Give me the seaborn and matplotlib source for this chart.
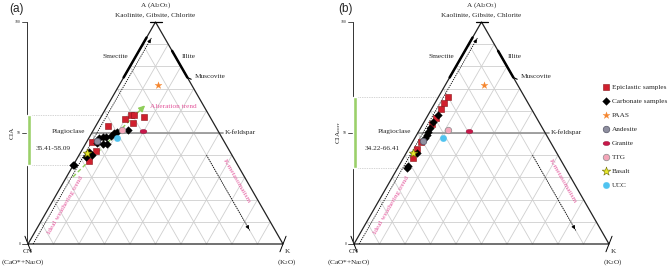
import numpy as np
import pandas as pd
import matplotlib.pyplot as plt
import seaborn as sns

sns.set_theme(style='white')
plt.rcParams['font.family'] = ['Liberation Serif', 'DejaVu Serif']
plt.rcParams['mathtext.fontset'] = 'custom'
plt.rcParams['mathtext.rm'] = 'Liberation Serif'
plt.rcParams['mathtext.it'] = 'Liberation Serif:italic'

# datos (A y K en %, CN = 100 - A - K) ========================================
# (a) CIA
epi_a_A = [58.09, 58.0, 57.4, 56.2, 54.4, 53.2, 46.0, 41.9, 37.5]
epi_a_K = [11.2, 12.4, 16.7, 9.9, 13.8, 4.6, 2.2, 5.6, 5.1]
carb_a_A = [51.4, 50.5, 49.8, 48.6, 48.3, 48.3, 47.6, 44.9, 44.9, 45.4, 41.6, 40.1, 39.3, 35.6, 35.41]
carb_a_K = [13.4, 9.5, 8.9, 8.2, 6.3, 5.4, 4.2, 8.4, 7.1, 4.2, 3.2, 5.0, 3.1, 0.3, 0.0]

# (b) CIA corr
epi_b_A = [66.41, 63.4, 60.7, 56.6, 53.9, 45.9, 42.7, 38.6]
epi_b_K = [3.6, 3.6, 3.8, 3.9, 3.6, 3.5, 3.5, 3.8]
carb_b_A = [58.1, 55.1, 52.1, 50.6, 49.1, 47.6, 40.9, 35.3, 34.22]
carb_b_K = [3.8, 3.5, 3.8, 3.8, 4.0, 4.0, 4.1, 3.6, 3.5]

# referencias
ref_names = ['PAAS', 'Andesite', 'Granite', 'TTG', 'Basalt', 'UCC']
ref_A = [71.7, 46.6, 50.9, 51.2, 40.9, 47.7]
ref_K = [15.0, 3.6, 19.6, 11.3, 2.5, 11.2]

cia_range_a = [35.41, 58.09]
cia_range_b = [34.22, 66.41]


def tern(A, K):
    A = np.asarray(A, float) / 100
    K = np.asarray(K, float) / 100
    return K + A / 2, A


t = np.linspace(0, 2 * np.pi, 40)
ellipse = np.column_stack([1.4 * np.cos(t), 0.85 * np.sin(t)])

estilos = {
    'Epiclastic samples': dict(marker='s', color='#d0202e', edgecolor='#8a1418', s=22, linewidth=0.4),
    'Carbonate samples': dict(marker='D', color='black', edgecolor='black', s=15, linewidth=0.3),
    'PAAS': dict(marker='*', color='#f5862e', edgecolor='#f5862e', s=28, linewidth=0.2),
    'Andesite': dict(marker='o', color='#8e8fa0', edgecolor='#555566', s=22, linewidth=0.5),
    'Granite': dict(marker=ellipse, color='#c8174a', edgecolor='#8a1030', s=24, linewidth=0.3),
    'TTG': dict(marker='o', color='#f4a6b9', edgecolor='#8a8a8a', s=22, linewidth=0.5),
    'Basalt': dict(marker='*', color='#e8e82a', edgecolor='#6b6b00', s=42, linewidth=0.4),
    'UCC': dict(marker='o', color='#4fc3f0', edgecolor='#4fc3f0', s=22, linewidth=0.2),
}

rosa = '#e4579c'
fs = 5.2

fig = plt.figure(figsize=(6.69, 2.69), dpi=100)
ax_a = fig.add_axes([0, 0, 335 / 669, 1])
ax_b = fig.add_axes([335 / 669, 0, 334 / 669, 1])
ax_a.set_xlim(-28 / 255, 307 / 255)
ax_b.set_xlim(-19 / 255, 315 / 255)
for ax in (ax_a, ax_b):
    ax.set_ylim(-25 / 222, 244 / 222)
    ax.axis('off')


def base(ax, rango, ylab, lab_x, fin_top, fin_bot):
    # rejilla ternaria
    for v in np.arange(0.1, 0.95, 0.1):
        ax.plot([v / 2, 1 - v / 2], [v, v], color='#cfcfcf', lw=0.6, zorder=1)
        ax.plot([v, v + (1 - v) / 2], [0, 1 - v], color='#cfcfcf', lw=0.6, zorder=1)
        ax.plot([1 - v, (1 - v) / 2], [0, 1 - v], color='#cfcfcf', lw=0.6, zorder=1)
    ax.plot([0.25, 0.765], [0.5, 0.5], color='#9a9a9a', lw=1.3, zorder=2)
    ax.plot([0, 0.5, 1, 0], [0, 1, 0, 0], color='#222222', lw=0.9, zorder=3)
    # minerales
    ax.plot([0.75 / 2, 0.93 / 2], [0.75, 0.93], color='black', lw=1.8, zorder=3)
    ax.plot([1 - 0.75 / 2, 1 - 0.87 / 2], [0.75, 0.87], color='black', lw=1.8, zorder=3)
    ax.plot([0.625, 0.64], [0.75, 0.742], color='black', lw=0.8, zorder=3)
    ax.plot([0.48, 0.525], [1, 1], color='black', lw=0.9, zorder=3)
    ax.plot([-0.012, 0.012], [0.035, -0.035], color='black', lw=0.7, zorder=3)
    ax.plot([0.988, 1.012], [-0.035, 0.035], color='black', lw=0.7, zorder=3)
    # flechas punteadas
    ax.plot([0.02, 0.485], [0, 0.93], color='black', lw=0.6, ls=(0, (1.5, 1.2)), zorder=3)
    ax.annotate('', xy=(0.487, 0.935), xytext=(0.47, 0.90),
                arrowprops=dict(arrowstyle='-|>', color='black', lw=0.6, mutation_scale=5))
    ax.plot([0.70, 0.87], [0.40, 0.06], color='black', lw=0.6, ls=(0, (1.5, 1.2)), zorder=3)
    ax.annotate('', xy=(0.8725, 0.055), xytext=(0.855, 0.09),
                arrowprops=dict(arrowstyle='-|>', color='black', lw=0.6, mutation_scale=5))
    # eje CIA
    ax.plot([-0.004, -0.004], [0, 1], color='#333333', lw=0.7, zorder=3)
    for v, txt in [(0, '0'), (0.5, '50'), (1, '100')]:
        ax.plot([-0.022, -0.004], [v, v], color='#333333', lw=0.6)
        ax.text(-0.028, v, txt, fontsize=2.8, ha='right', va='center')
    ax.bar(-0.004, (rango[1] - rango[0]) / 100, bottom=rango[0] / 100, width=0.016,
           align='edge', color='#9bd06a', zorder=4)
    ax.plot([0.016, fin_top], [rango[1] / 100] * 2, color='#aaaaaa', lw=0.5, ls=(0, (1, 1.5)), zorder=2)
    ax.plot([0.016, fin_bot], [rango[0] / 100] * 2, color='#aaaaaa', lw=0.5, ls=(0, (1, 1.5)), zorder=2)
    ax.text(lab_x, 0.43, f'{rango[0]:.2f}-{rango[1]:.2f}', fontsize=fs, ha='left', va='center')
    ax.text(-0.06, 0.5, ylab, fontsize=fs, rotation=90, ha='center', va='center')
    # etiquetas
    ax.text(0.5, 1.077, r'A (Al$_{2}$O$_{3}$)', fontsize=fs, ha='center', va='center')
    ax.text(0.5, 1.032, 'Kaolinite, Gibsite, Chlorite', fontsize=fs, ha='center', va='center')
    ax.text(0.341, 0.844, 'Smectite', fontsize=fs, ha='center', va='center')
    ax.text(0.629, 0.844, 'Illite', fontsize=fs, ha='center', va='center')
    ax.text(0.655, 0.754, 'Muscovite', fontsize=fs, ha='left', va='center')
    ax.text(0.225, 0.505, 'Plagioclase', fontsize=fs, ha='right', va='center')
    ax.text(0.772, 0.505, 'K-feldspar', fontsize=fs, ha='left', va='center')
    ax.text(0.0, -0.036, 'CN', fontsize=fs, ha='center', va='center')
    ax.text(-0.02, -0.081, r'(CaO*+Na$_{2}$O)', fontsize=fs, ha='center', va='center')
    ax.text(1.008, -0.036, 'K', fontsize=fs, ha='left', va='center')
    ax.text(1.015, -0.081, r'(K$_{2}$O)', fontsize=fs, ha='center', va='center')
    ax.text(0.145, 0.176, 'Ideal weathering trend', fontsize=fs, color=rosa,
            rotation=60, ha='center', va='center')
    ax.text(0.816, 0.284, 'K-metasomatism', fontsize=fs, color=rosa,
            rotation=-60, ha='center', va='center')


def puntos(ax, epi_A, epi_K, carb_A, carb_K, leyenda):
    grupos = [('Epiclastic samples', epi_A, epi_K), ('Carbonate samples', carb_A, carb_K)]
    for i, n in enumerate(ref_names):
        grupos.append((n, [ref_A[i]], [ref_K[i]]))
    for n, A, K in grupos:
        x, y = tern(A, K)
        df = pd.DataFrame({'x': x, 'y': y})
        sns.scatterplot(data=df, x='x', y='y', ax=ax, label=n if leyenda else None,
                        legend=leyenda, zorder=5, **estilos[n])
    ax.set_xlabel('')
    ax.set_ylabel('')


base(ax_a, cia_range_a, 'CIA', 0.031, 0.29, 0.177)
base(ax_b, cia_range_b, r'CIA$_{\mathrm{corr}}$', 0.043, 0.368, 0.206)

# flecha de alteración
ax_a.plot([0.176, 0.455], [0.302, 0.62], color='#8fce5a', lw=1.0, ls=(0, (3, 2)), zorder=4)
ax_a.annotate('', xy=(0.467, 0.633), xytext=(0.44, 0.603),
              arrowprops=dict(arrowstyle='-|>', color='#8fce5a', lw=1.0, mutation_scale=9))
ax_a.text(0.478, 0.618, 'Alteration trend', fontsize=fs, color=rosa, ha='left', va='center')

puntos(ax_a, epi_a_A, epi_a_K, carb_a_A, carb_a_K, False)
puntos(ax_b, epi_b_A, epi_b_K, carb_b_A, carb_b_K, True)

ax_b.legend(loc='upper left', bbox_to_anchor=(598 / 669, 1 - 80 / 269), bbox_transform=fig.transFigure,
            frameon=False, fontsize=fs, handletextpad=0.2, labelspacing=1.1, borderpad=0,
            handlelength=1.2)

fig.text(9 / 669, 1 - 9 / 269, '(a)', fontsize=8.5, family='Liberation Sans', va='center')
fig.text(338 / 669, 1 - 9 / 269, '(b)', fontsize=8.5, family='Liberation Sans', va='center')

fig.savefig('out.png', dpi=100)
